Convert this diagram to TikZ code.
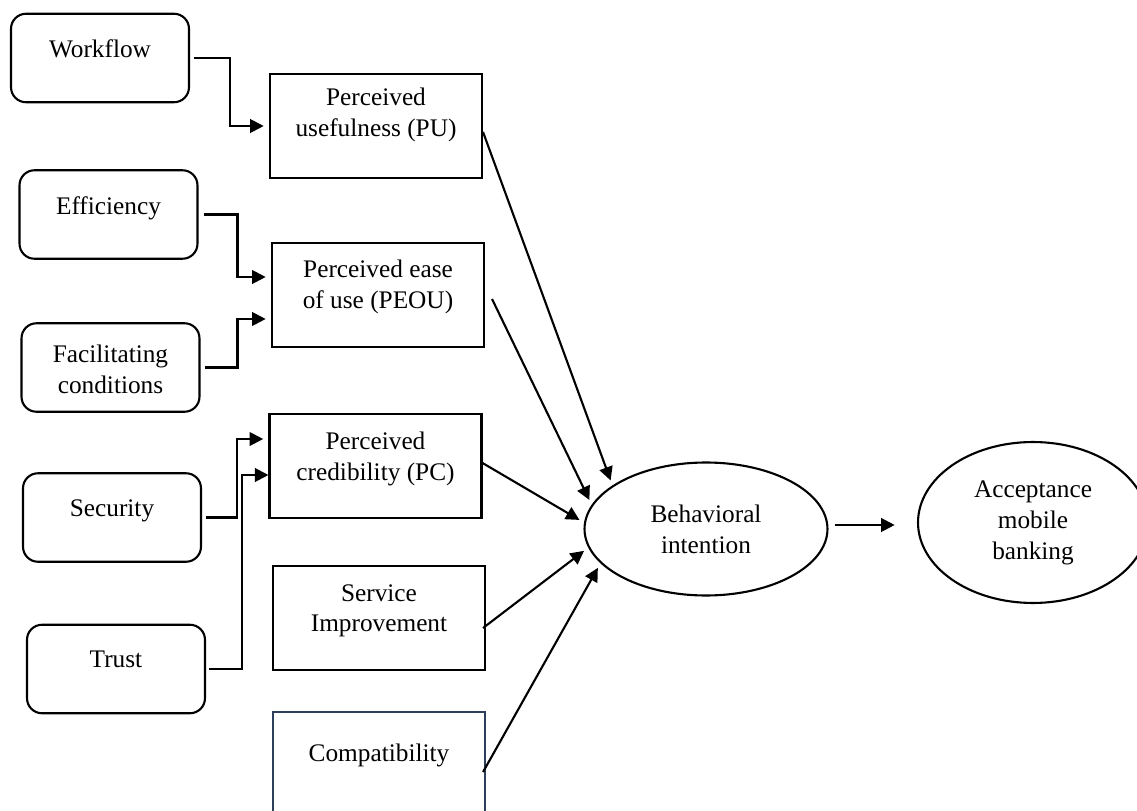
\documentclass[tikz,border=0pt]{standalone}
\usepackage{fontspec}
\setmainfont{Liberation Serif}
\usepackage{tikz}
\definecolor{cmpedge}{HTML}{2E3F5C}
\usetikzlibrary{arrows.meta,shapes.geometric}

\begin{document}
\begin{tikzpicture}[x=0.02cm,y=-0.02cm,
  font=\fontsize{14.4}{17.6}\selectfont,
  soft/.style={draw,line width=1.2pt,rounded corners=0.3cm,
               minimum width=3.56cm,minimum height=1.77cm},
  sq/.style={draw,line width=1.2pt,minimum width=4.24cm,minimum height=2.08cm},
  oval/.style={draw,ellipse,line width=1.2pt,align=center,inner sep=0pt},
  txt/.style={anchor=north,inner sep=0pt,align=center,yshift=-#1},
  txt/.default=0.54cm,
  arr/.style={-{Triangle[length=2.7mm,width=2.7mm]},line width=1.2pt,shorten >=3pt}]
\useasboundingbox (0,0) rectangle (1137,811);
% factors
\node[soft,label={[txt]north:Workflow}] (wf) at (100,58) {};
\node[soft,label={[txt]north:Efficiency}] (eff) at (108.5,214.5) {};
\node[soft,label={[txt=0.44cm]north:{Facilitating\\conditions}}] (fac) at (110.5,367.5) {};
\node[soft,label={[txt=0.55cm]north:Security}] (sec) at (112,517.5) {};
\node[soft,label={[txt]north:Trust}] (tru) at (116,669) {};
% constructs
\node[sq,label={[txt=0.30cm]north:{Perceived\\usefulness (PU)}}] (pu) at (376,126) {};
\node[sq,label={[txt=0.36cm]north:{Perceived ease\\of use (PEOU)}}] (peou) at (378,295) {};
\node[sq,label={[txt=0.38cm]north:{Perceived\\credibility (PC)}}] (pc) at (375.5,466) {};
\node[sq,label={[txt=0.38cm]north:{Service\\Improvement}}] (si) at (379,618) {};
\node[sq,draw=cmpedge,label={[txt=0.66cm]north:Compatibility}] (cmp) at (379,764) {};
% outcomes
\node[oval,minimum width=4.86cm,minimum height=2.66cm] (bi) at (706,529) {Behavioral\\intention};
\node[oval,minimum width=4.6cm,minimum height=3.22cm] (acc) at (1033,522.5) {Acceptance\\mobile\\banking};
% elbow links
\draw[arr] ([shift={(4,0)}]wf.east) -- ++(36,0) |- (pu);
\draw[arr] ([shift={(5,0)}]eff.east) -- ++(34,0) |- ([yshift=0.36cm]peou.west);
\draw[arr] ([shift={(4,0)}]fac.east) -- ++(33,0) |- ([yshift=-0.48cm]peou.west);
\draw[arr] ([shift={(4,0)}]sec.east) -- ++(31,0) |- ([yshift=0.54cm]pc.west);
\draw[arr,shorten >=0pt] ([shift={(3,0)}]tru.east) -- ++(33,0) |- ([yshift=-0.18cm]pc.west);
% into intention
\draw[arr] ([shift={(0,6)}]pu.east) -- (bi.155);
\draw[arr] ([shift={(7,4)}]peou.east) -- (bi.168);
\draw[arr] ([shift={(0,-3)}]pc.east) -- (bi.177);
\draw[arr] ([shift={(-3,10)}]si.east) -- (bi.189);
\draw[arr] ([shift={(-3,8)}]cmp.east) -- (bi.198);
\draw[arr] ([shift={(6,-4)}]bi.east) coordinate (bo) -- ([xshift=-0.34cm]acc.west |- bo);
\end{tikzpicture}
\end{document}
